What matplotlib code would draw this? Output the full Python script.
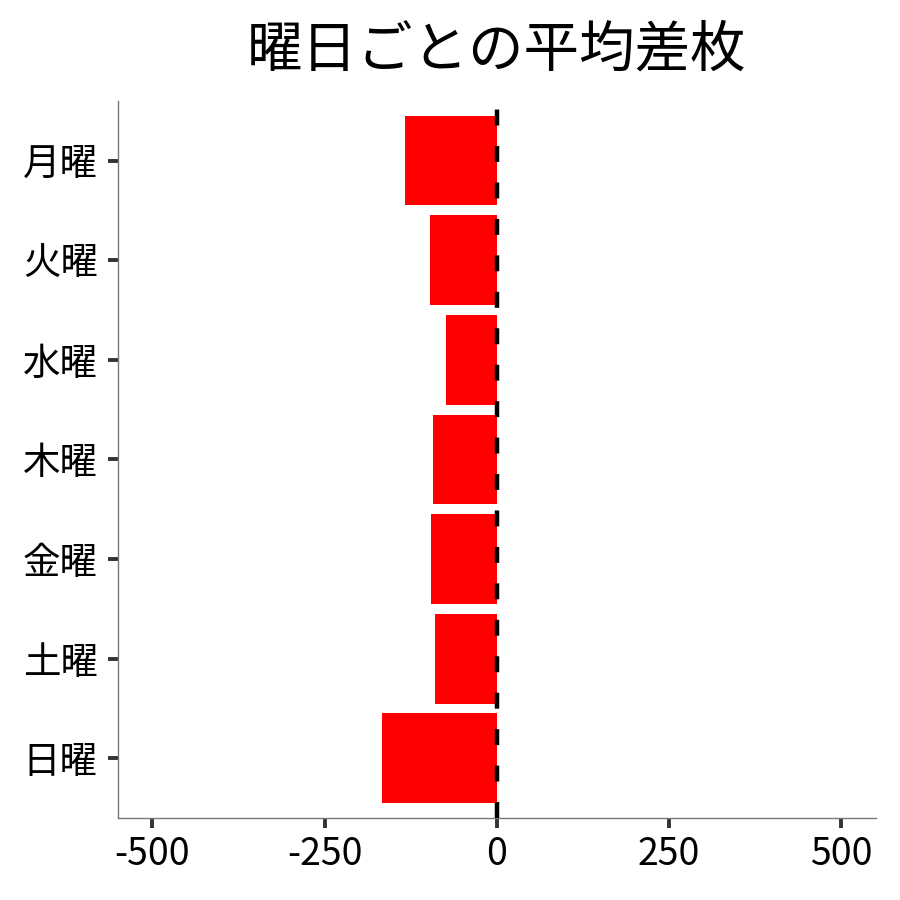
import matplotlib
matplotlib.use("Agg")
import matplotlib.pyplot as plt

plt.rcParams['font.family'] = ['Noto Sans CJK JP', 'DejaVu Sans']

days = ['月曜', '火曜', '水曜', '木曜', '金曜', '土曜', '日曜']
avg_diff = [-133, -97, -74, -92, -95, -89, -166]
xticks = [-500, -250, 0, 250, 500]
ref_line = 0


def plot_weekday_diff():
    fig = plt.figure(figsize=(9, 9), dpi=100)
    ax = fig.add_axes([0.131, 0.091, 0.842, 0.797])

    ypos = list(range(len(days)))[::-1]
    ax.barh(ypos, avg_diff, height=0.9, color='#ff0000', zorder=2)
    ax.axvline(ref_line, color='black', lw=3.2, dashes=(3.6, 4.6), zorder=3)

    ax.set_xlim(-550, 550)
    ax.set_ylim(-0.6, len(days) - 0.4)
    ax.set_yticks(ypos)
    ax.set_yticklabels(days)
    ax.set_xticks(xticks)
    ax.set_xticklabels([str(v) for v in xticks])

    for side in ['top', 'right']:
        ax.spines[side].set_visible(False)
    for side in ['left', 'bottom']:
        ax.spines[side].set_color('#777777')
        ax.spines[side].set_linewidth(1.0)

    ax.tick_params(axis='both', length=7.5, width=2.8, color='#333333',
                   labelsize=27, labelcolor='black')
    ax.tick_params(axis='y', pad=7)
    ax.tick_params(axis='x', pad=5)

    ax.set_title('曜日ごとの平均差枚', fontsize=40, pad=25)

    fig.savefig('out.png', dpi=100)


if __name__ == "__main__":
    plot_weekday_diff()
